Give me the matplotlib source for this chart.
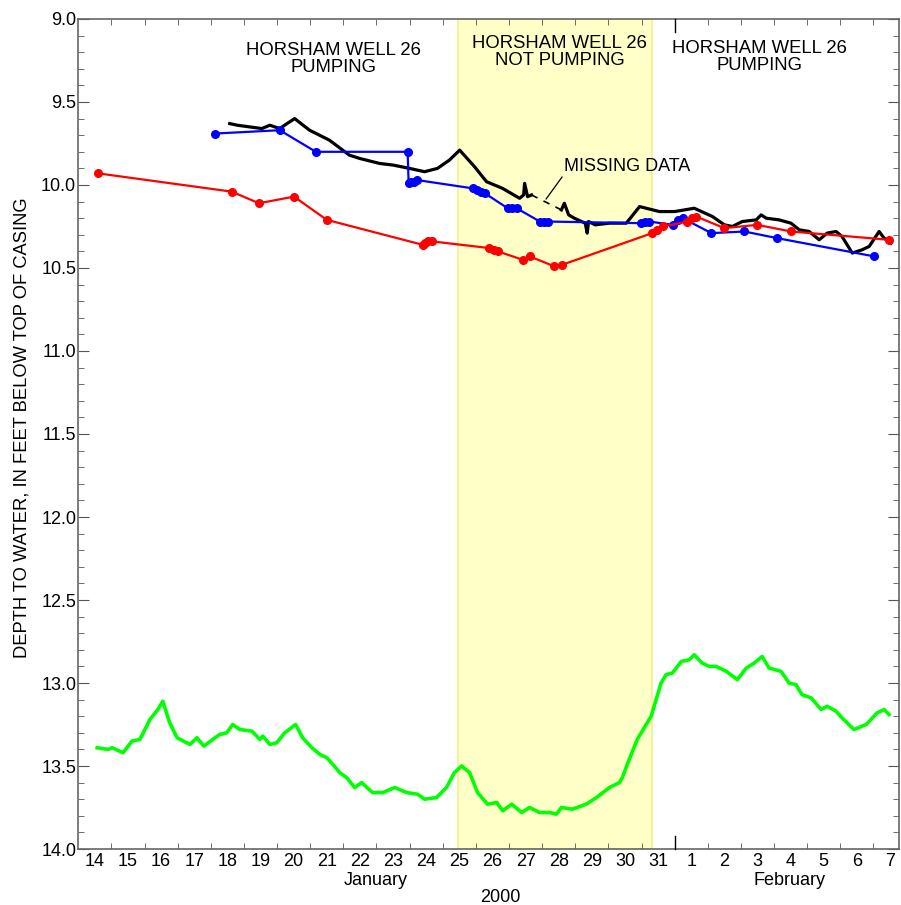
import matplotlib
matplotlib.use("Agg")
import matplotlib.pyplot as plt
from matplotlib.ticker import FixedLocator, MultipleLocator, FormatStrFormatter

plt.rcParams['font.family'] = ['Liberation Sans', 'DejaVu Sans']

# ---- data (x = day of January 2000; 32 = Feb 1) ----
red_day = [14.60, 18.63, 19.45, 20.51, 21.50, 24.39, 24.47, 24.54, 24.69,
           26.41, 26.54, 26.66, 27.41, 27.62, 28.37, 28.61,
           31.32, 31.47, 31.65, 32.38, 32.53, 32.65, 33.50, 34.49, 35.51, 38.47]
red_depth = [9.93, 10.04, 10.11, 10.07, 10.21, 10.36, 10.35, 10.34, 10.34,
             10.38, 10.39, 10.40, 10.45, 10.43, 10.49, 10.48,
             10.29, 10.27, 10.25, 10.22, 10.20, 10.19, 10.26, 10.24, 10.28, 10.33]

blue_day = [18.12, 20.08, 21.17, 23.94, 23.97, 24.05, 24.12, 24.22,
            25.90, 26.02, 26.15, 26.27, 26.96, 27.08, 27.23,
            27.93, 28.05, 28.17, 30.97, 31.10, 31.23, 31.94, 32.09, 32.24,
            33.11, 34.10, 35.09, 38.02]
blue_depth = [9.69, 9.67, 9.80, 9.80, 9.99, 9.98, 9.98, 9.97,
              10.02, 10.03, 10.04, 10.05, 10.14, 10.14, 10.14,
              10.22, 10.22, 10.22, 10.23, 10.22, 10.22, 10.24, 10.21, 10.20,
              10.29, 10.28, 10.32, 10.43]

black1_day = [18.57, 18.80, 19.17, 19.54, 19.78, 20.08, 20.30, 20.53, 20.98,
              21.58, 22.18, 22.49, 23.09, 23.50, 24.00, 24.45, 24.84, 25.20,
              25.51, 25.96, 26.32, 26.80, 27.32, 27.44, 27.47, 27.56, 27.68]
black1_depth = [9.63, 9.64, 9.65, 9.66, 9.64, 9.66, 9.63, 9.60, 9.67,
                9.73, 9.82, 9.84, 9.87, 9.88, 9.90, 9.92, 9.90, 9.85,
                9.79, 9.89, 9.98, 10.02, 10.08, 10.06, 9.99, 10.07, 10.06]

black2_day = [28.58, 28.67, 28.80, 28.97, 29.30, 29.36, 29.40, 29.60, 30.03,
              30.54, 30.94, 31.54, 32.00, 32.59, 33.14, 33.50, 33.74, 34.04,
              34.46, 34.61, 34.76, 35.15, 35.51, 35.76, 36.06, 36.36, 36.60,
              36.87, 37.05, 37.36, 37.66, 37.87, 38.17, 38.32, 38.53]
black2_depth = [10.15, 10.11, 10.18, 10.20, 10.23, 10.29, 10.22, 10.24, 10.23,
                10.23, 10.13, 10.16, 10.16, 10.14, 10.19, 10.24, 10.25, 10.22,
                10.21, 10.18, 10.20, 10.21, 10.23, 10.27, 10.28, 10.33, 10.29,
                10.28, 10.31, 10.41, 10.39, 10.37, 10.28, 10.32, 10.35]

green_day = [14.57, 14.90, 15.02, 15.35, 15.62, 15.86, 16.16, 16.40, 16.55,
             16.76, 16.98, 17.37, 17.58, 17.79, 18.06, 18.27, 18.48, 18.66,
             18.87, 19.24, 19.48, 19.57, 19.78, 19.99, 20.23, 20.56, 20.77,
             21.05, 21.29, 21.50, 21.68, 21.89, 22.10, 22.34, 22.55, 22.88,
             23.19, 23.55, 23.91, 24.24, 24.45, 24.81, 25.11, 25.35, 25.57,
             25.81, 26.05, 26.35, 26.63, 26.81, 27.08, 27.38, 27.62, 27.92,
             28.22, 28.43, 28.58, 28.91, 29.33, 29.64, 30.03, 30.33, 30.42,
             30.57, 30.87, 31.29, 31.59, 31.74, 31.93, 32.20, 32.44, 32.59,
             32.83, 33.04, 33.25, 33.56, 33.89, 34.16, 34.40, 34.64, 34.85,
             35.21, 35.45, 35.66, 35.84, 36.12, 36.42, 36.60, 36.87, 37.05,
             37.41, 37.78, 38.11, 38.32, 38.47]
green_depth = [13.39, 13.40, 13.39, 13.42, 13.35, 13.34, 13.22, 13.16, 13.11,
               13.24, 13.33, 13.37, 13.33, 13.38, 13.34, 13.31, 13.30, 13.25,
               13.28, 13.29, 13.34, 13.32, 13.37, 13.36, 13.30, 13.25, 13.33,
               13.39, 13.43, 13.45, 13.49, 13.54, 13.57, 13.63, 13.60, 13.66,
               13.66, 13.63, 13.66, 13.67, 13.70, 13.69, 13.63, 13.54, 13.50,
               13.54, 13.66, 13.73, 13.72, 13.77, 13.73, 13.78, 13.75, 13.78,
               13.78, 13.79, 13.75, 13.76, 13.73, 13.69, 13.63, 13.60, 13.57,
               13.49, 13.34, 13.20, 13.00, 12.95, 12.94, 12.87, 12.86, 12.83,
               12.88, 12.90, 12.90, 12.93, 12.98, 12.91, 12.88, 12.84, 12.91,
               12.93, 13.00, 13.01, 13.07, 13.09, 13.16, 13.14, 13.17, 13.21,
               13.28, 13.25, 13.18, 13.16, 13.19]

not_pumping_start, not_pumping_end = 25.45, 31.33

day_label_pos = [d + 0.5 for d in range(14, 39)]
day_labels = [str(d) for d in range(14, 32)] + [str(d) for d in range(1, 8)]

FS = 13

# ---- figure ----
fig = plt.figure(figsize=(9.01, 9.05), dpi=100)
ax = fig.add_axes([78.3 / 901, 1 - 849 / 905, (899 - 78.3) / 901, 830 / 905])

ax.axvspan(not_pumping_start, not_pumping_end, facecolor='#ffffc8',
           edgecolor='#f5f08a', lw=1.2, zorder=0)

ax.plot(green_day, green_depth, color='#00ff00', lw=2.6, zorder=3)
ax.plot(black1_day, black1_depth, color='black', lw=2.3, zorder=4)
ax.plot(black2_day, black2_depth, color='black', lw=2.3, zorder=4)
ax.plot([black1_day[-1], black2_day[0]], [black1_depth[-1], black2_depth[0]],
        color='black', lw=1.2, ls=(0, (4, 4)), zorder=4)
ax.plot(blue_day, blue_depth, color='#0000ff', lw=1.6, marker='o', ms=5.5,
        zorder=5)
ax.plot(red_day, red_depth, color='#ff0000', lw=1.6, marker='o', ms=5.5,
        zorder=6)

ax.set_xlim(14, 38.77)
ax.set_ylim(14.0, 9.0)

# x ticks: labels centred on each day, small ticks at day boundaries
ax.xaxis.set_major_locator(FixedLocator(day_label_pos))
ax.set_xticklabels(day_labels)
ax.xaxis.set_minor_locator(FixedLocator([d for d in range(15, 39) if d != 32]))
ax.tick_params(axis='x', which='major', length=0, pad=3, labelsize=FS,
               top=True)
ax.tick_params(axis='x', which='minor', length=4, direction='in', top=True,
               color='#555555')
# long tick at month boundary (Feb 1)
tr = ax.get_xaxis_transform()
ax.plot([32, 32], [0, 13 / 830], transform=tr, color='black', lw=1.0,
        clip_on=False, zorder=7)
ax.plot([32, 32], [1, 1 - 13 / 830], transform=tr, color='black', lw=1.0,
        clip_on=False, zorder=7)

# y ticks
ax.yaxis.set_major_locator(MultipleLocator(0.5))
ax.yaxis.set_minor_locator(MultipleLocator(0.1))
ax.yaxis.set_major_formatter(FormatStrFormatter('%.1f'))
ax.tick_params(axis='y', which='major', length=8, direction='in', right=True,
               pad=1.5, labelsize=FS, color='#555555')
ax.tick_params(axis='y', which='minor', length=4, direction='in', right=True,
               color='#555555')

for s in ax.spines.values():
    s.set_color('#666666')
    s.set_linewidth(1.2)

ax.set_ylabel('DEPTH TO WATER, IN FEET BELOW TOP OF CASING', fontsize=13.2)
ax.yaxis.set_label_coords(-0.0583, 0.508)

# month / year labels
ax.text(22.97, -0.0434, 'January', transform=tr, ha='center', va='baseline',
        fontsize=FS)
ax.text(35.48, -0.0434, 'February', transform=tr, ha='center', va='baseline',
        fontsize=FS)
ax.text(26.75, -0.0639, '2000', transform=tr, ha='center', va='baseline',
        fontsize=FS)

# annotations (one text per line, baseline aligned)
ann = dict(ha='center', va='baseline', fontsize=13.3, zorder=8)
ax.text(21.71, 9.217, 'HORSHAM WELL 26', **ann)
ax.text(21.71, 9.319, 'PUMPING', **ann)
ax.text(28.52, 9.175, 'HORSHAM WELL 26', **ann)
ax.text(28.52, 9.277, 'NOT PUMPING', **ann)
ax.text(34.57, 9.205, 'HORSHAM WELL 26', **ann)
ax.text(34.57, 9.307, 'PUMPING', **ann)
ax.text(28.65, 9.916, 'MISSING DATA', ha='left', va='baseline', fontsize=13,
        zorder=8)
ax.plot([28.60, 28.12], [9.952, 10.084], color='black', lw=0.9, zorder=8)

fig.savefig('out.png', dpi=100)
